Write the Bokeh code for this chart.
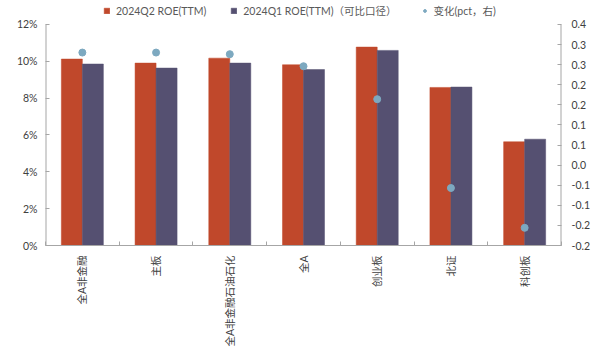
from bokeh.plotting import figure
from bokeh.models import (Range1d, LinearAxis, FixedTicker, Legend, LegendItem,
                          ColumnDataSource)
from bokeh.embed import file_html
from bokeh.resources import INLINE
import math

categories = ["全A非金融", "主板", "全A非金融石油石化", "全A", "创业板", "北证", "科创板"]
roe_q2 = [10.12, 9.90, 10.17, 9.81, 10.77, 8.58, 5.63]
roe_q1 = [9.85, 9.63, 9.90, 9.55, 10.59, 8.60, 5.77]
change = [0.28, 0.28, 0.276, 0.246, 0.164, -0.057, -0.156]
left_ticks = [0, 2, 4, 6, 8, 10, 12]
right_ticks = [-0.2, -0.15, -0.1, -0.05, 0.0, 0.05, 0.1, 0.15, 0.2, 0.25, 0.3, 0.35]
right_labels = ["-0.2", "-0.2", "-0.1", "-0.1", "0.0", "0.1", "0.1", "0.2", "0.2", "0.3", "0.3", "0.4"]
series_names = ["2024Q2 ROE(TTM)", "2024Q1 ROE(TTM)（可比口径）", "变化(pct，右)"]

RED = "#C0482B"
PURPLE = "#555071"
DOT = "#7DA9C0"
FONT = "Lato, 'Noto Sans CJK SC'"
TXT = "#404040"
AX = "#A6A6A6"

n = len(categories)
centers = [i + 0.5 for i in range(n)]
bw = 0.285

# frame is extended above the top tick so the legend can sit inside it
FRAME_H = 242.0
AXIS_H = 222.0
ext = FRAME_H / AXIS_H
l0, l1 = left_ticks[0], left_ticks[-1]
r0, r1v = right_ticks[0], right_ticks[-1]

src = ColumnDataSource(dict(
    x1=[c - bw / 2 for c in centers],
    x2=[c + bw / 2 for c in centers],
    xc=centers,
    q2=roe_q2, q1=roe_q1, ch=change,
))

p = figure(width=597, height=349, output_backend="svg", toolbar_location=None,
           x_range=Range1d(0, n), y_range=Range1d(l0, l0 + (l1 - l0) * ext),
           min_border_left=45, min_border_right=36, min_border_top=4,
           min_border_bottom=103, background_fill_color="white",
           border_fill_color="white", outline_line_color=None)
p.grid.visible = False
p.extra_y_ranges = {"right": Range1d(r0, r0 + (r1v - r0) * ext)}

# axis lines limited to the tick span
p.segment(x0=[0], y0=[l0], x1=[0], y1=[l1], line_color=AX, line_width=2)
p.segment(x0=[n], y0=[r0], x1=[n], y1=[r1v], line_color=AX, line_width=2,
          y_range_name="right")

r1 = p.vbar(x="x1", top="q2", width=bw, bottom=0, source=src,
            fill_color=RED, line_color=RED, line_width=0.5)
r2 = p.vbar(x="x2", top="q1", width=bw, bottom=0, source=src,
            fill_color=PURPLE, line_color=PURPLE, line_width=0.5)
r3 = p.scatter(x="xc", y="ch", source=src, size=7, fill_color=DOT,
               line_color=DOT, y_range_name="right")

# left axis
ya = p.yaxis[0]
ya.ticker = FixedTicker(ticks=left_ticks)
ya.major_label_overrides = {t: f"{t}%" for t in left_ticks}
ya.minor_tick_line_color = None
ya.major_tick_in = 4
ya.major_tick_out = 0
ya.axis_line_color = None
ya.major_tick_line_color = AX
ya.major_label_text_font = FONT
ya.major_label_text_font_size = "10.5px"
ya.major_label_text_color = TXT
ya.major_label_standoff = 8

# right axis
ra = LinearAxis(y_range_name="right")
ra.ticker = FixedTicker(ticks=right_ticks)
ra.major_label_overrides = {t: l for t, l in zip(right_ticks, right_labels)}
ra.minor_tick_line_color = None
ra.major_tick_in = 4
ra.major_tick_out = 0
ra.axis_line_color = None
ra.major_tick_line_color = AX
ra.major_label_text_font = FONT
ra.major_label_text_font_size = "10.5px"
ra.major_label_text_color = TXT
ra.major_label_standoff = 10
p.add_layout(ra, "right")

# bottom axis
xa = p.xaxis[0]
xa.ticker = FixedTicker(ticks=centers, minor_ticks=list(range(n + 1)))
xa.major_label_overrides = {c: name for c, name in zip(centers, categories)}
xa.major_tick_line_color = None
xa.minor_tick_in = 4
xa.minor_tick_out = 0
xa.minor_tick_line_color = AX
xa.axis_line_color = AX
xa.major_label_orientation = math.pi / 2
xa.major_label_text_font = FONT
xa.major_label_text_font_size = "10.5px"
xa.major_label_text_color = TXT
xa.major_label_standoff = 4

legend = Legend(items=[LegendItem(label=series_names[0], renderers=[r1]),
                       LegendItem(label=series_names[1], renderers=[r2]),
                       LegendItem(label=series_names[2], renderers=[r3])],
                orientation="horizontal", location=(58, 227),
                border_line_color=None, background_fill_alpha=0,
                padding=0, margin=0, spacing=24, label_standoff=6,
                glyph_width=7, glyph_height=7, label_height=14,
                label_text_font=FONT, label_text_font_size="10.5px",
                label_text_color="#595959")
p.add_layout(legend, "center")

open("out.html", "w").write(file_html(p, INLINE))
